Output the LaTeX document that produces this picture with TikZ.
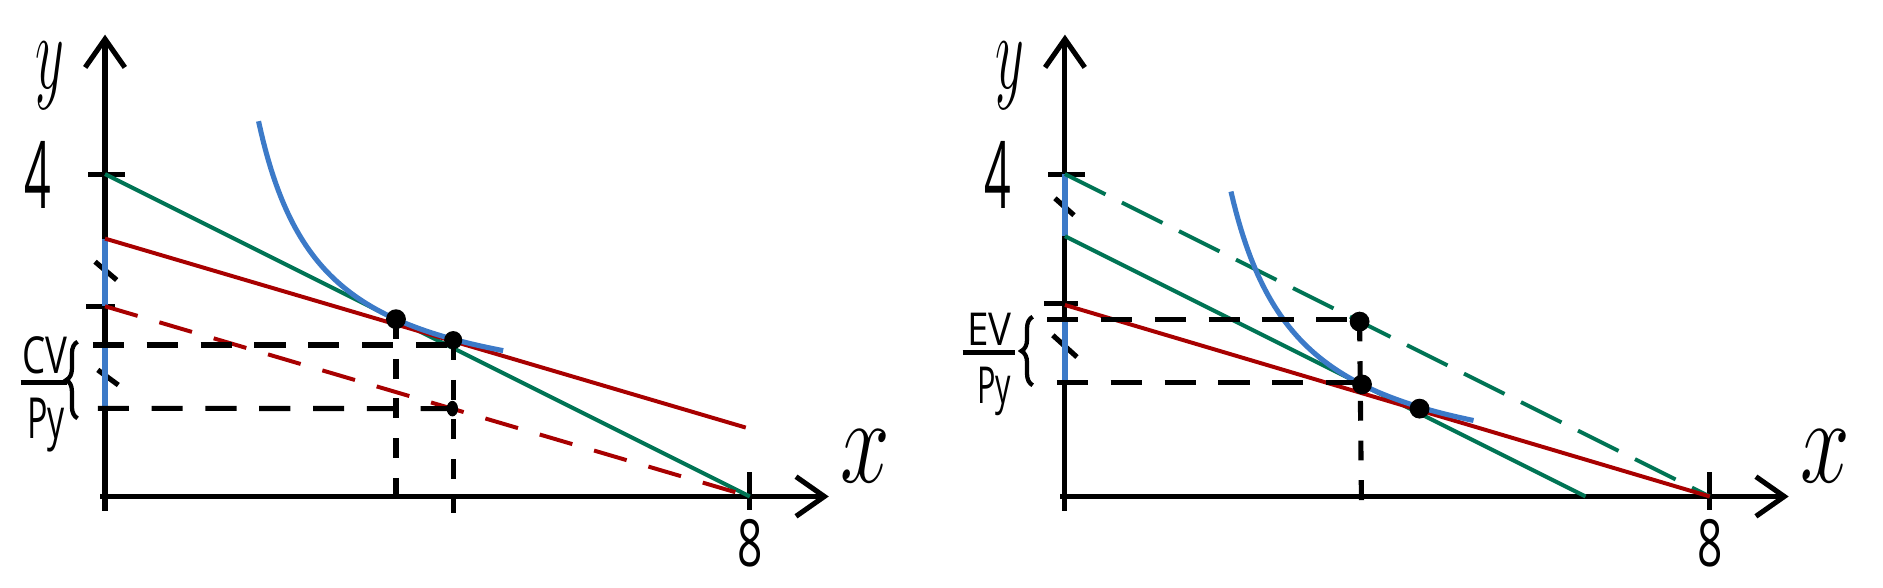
\RequirePackage{fix-cm}
\documentclass[tikz,border=0pt]{standalone}
\usepackage{graphicx}
\usepackage{fontspec}
\setsansfont{Open Sans}
\usetikzlibrary{arrows.meta,decorations.pathreplacing,shapes.geometric}
\definecolor{budgetgreen}{RGB}{0,116,84}
\definecolor{budgetred}{RGB}{168,0,0}
\definecolor{curveblue}{RGB}{60,122,200}
\tikzset{
  axisline/.style={line width=1.8pt,-{Straight Barb[length=10pt,width=14pt]}},
  tickline/.style={line width=1.8pt},
  greenline/.style={budgetgreen,line width=1.4pt},
  redline/.style={budgetred,line width=1.4pt},
  blueline/.style={curveblue,line width=1.8pt},
  gapline/.style={curveblue,line width=2.2pt},
  guide/.style={line width=1.8pt,dash pattern=on 11pt off 8pt},
  vguide/.style={line width=1.8pt,dash pattern=on 7pt off 7pt},
  dot/.style={circle,fill,inner sep=0pt,minimum size=7pt},
  smalldot/.style={ellipse,fill,inner sep=0pt,minimum width=4pt,minimum height=5.5pt},
  bracket/.style={line width=1.5pt,decorate,decoration={brace,amplitude=4pt}},
  biglbl/.style={inner sep=0pt,font=\sffamily\fontsize{33}{35}\selectfont},
  varlbl/.style={inner sep=0pt,font=\fontsize{43}{45}\selectfont},
  fraclbl/.style={inner sep=0pt,font=\sffamily\fontsize{18}{20}\selectfont},
}
\begin{document}
\begin{tikzpicture}
\useasboundingbox (-1.303,-1.135) rectangle (22.06,6.16);

% left: compensating variation
\draw[axisline] (0,-0.18) -- (0,5.73);
\draw[axisline] (-0.06,0) -- (8.98,0);
\draw[tickline] (-0.21,4) -- (0.25,4);
\draw[tickline] (8,0.3) -- (8,-0.17);
\draw[tickline] (-0.235,2.36) -- (0.12,2.36);
\draw[tickline] (-0.124,2.913) -- (0.145,2.686);
\draw[tickline] (-0.09,1.57) -- (0.165,1.383);
\draw[gapline] (0,3.2) -- (0,2.36);
\draw[gapline] (0,1.88) -- (0,1.094);
\draw[greenline] (0,4) -- (8,0);
\draw[redline] (0,3.2) -- (7.95,0.855);
\draw[redline,dash pattern=on 12pt off 8pt] (0,2.36) -- (8,0);
\draw[blueline,domain=1.905:4.94,samples=100] plot (\x,{1.083+2.769/(\x-1.13)});
\coordinate (A) at (3.61,2.20);
\coordinate (B) at (4.32,1.94);
\coordinate (C) at (4.31,1.09);
\draw[guide] (-0.15,1.88) -- (B |- 0,1.88);
\draw[guide] (-0.09,1.094) -- (C);
\draw[vguide] (A) -- (A |- 0,-0.12);
\draw[vguide] (B) -- (B |- 0,-0.2);
\node[dot] (ptA) at (A) {};
\node[dot,minimum size=6.4pt] (ptB) at (B) {};
\node[smalldot] (ptC) at (C) {};
\node[varlbl,font=\fontsize{38}{40}\selectfont] (ylabL) at (-0.68,5.22) {\scalebox{0.52}[1]{$y$}};
\node[varlbl] (xlabL) at (9.43,0.5) {\scalebox{0.73}[1]{$x$}};
\node[biglbl] (fourL) at (-0.83,3.99) {\scalebox{0.5}[1]{4}};
\node[biglbl,font=\sffamily\fontsize{23}{25}\selectfont] (eightL) at (8,-0.58) {\scalebox{0.68}[1]{8}};
\node[fraclbl] (cvnum) at (-0.744,1.75) {\scalebox{0.72}[1]{CV}};
\node[fraclbl,font=\sffamily\fontsize{20}{22}\selectfont] (cvden) at (-0.73,0.88) {\scalebox{0.6}[1]{Py}};
\draw[tickline,line width=1.6pt] (-1.047,1.412) -- (-0.476,1.412);
\draw[bracket] (-0.34,0.97) -- (-0.34,1.92);

% right: equivalent variation
\begin{scope}[xshift=11.91cm]
\draw[axisline] (0,-0.18) -- (0,5.73);
\draw[axisline] (-0.06,0) -- (8.98,0);
\draw[tickline] (-0.21,4) -- (0.25,4);
\draw[tickline] (8,0.3) -- (8,-0.17);
\draw[tickline] (-0.26,2.40) -- (0.16,2.40);
\draw[tickline] (-0.124,3.70) -- (0.112,3.49);
\draw[tickline] (-0.15,2.0) -- (0.149,1.73);
\draw[gapline] (0,4) -- (0,3.23);
\draw[gapline] (0,2.21) -- (0,1.41);
\draw[greenline,dash pattern=on 16pt off 6.5pt] (0,4) -- (8,0);
\draw[greenline] (0,3.23) -- (6.46,0);
\draw[redline] (0,2.376) -- (8,0);
\draw[blueline,domain=2.06:5.07,samples=100] plot (\x,{0.15+3.052/(\x-1.22)});
\coordinate (D) at (3.656,2.17);
\coordinate (E) at (3.686,1.39);
\coordinate (F) at (4.40,1.09);
\draw[guide] (-0.22,2.2) -- (D |- 0,2.2);
\draw[guide] (-0.1,1.41) -- (E |- 0,1.41);
\draw[vguide] (D) -- (3.68,-0.15);
\node[dot] (ptD) at (D) {};
\node[dot] (ptE) at (E) {};
\node[dot] (ptF) at (F) {};
\node[varlbl,font=\fontsize{38}{40}\selectfont] (ylabR) at (-0.68,5.22) {\scalebox{0.52}[1]{$y$}};
\node[varlbl] (xlabR) at (9.43,0.5) {\scalebox{0.73}[1]{$x$}};
\node[biglbl] (fourR) at (-0.83,3.99) {\scalebox{0.5}[1]{4}};
\node[biglbl,font=\sffamily\fontsize{23}{25}\selectfont] (eightR) at (8,-0.58) {\scalebox{0.68}[1]{8}};
\node[fraclbl,font=\sffamily\fontsize{16}{18}\selectfont] (evnum) at (-0.94,2.08) {\scalebox{0.85}[1]{EV}};
\node[fraclbl] (evden) at (-0.88,1.30) {\scalebox{0.6}[1]{Py}};
\draw[tickline,line width=1.6pt] (-1.27,1.784) -- (-0.62,1.784);
\draw[bracket] (-0.40,1.38) -- (-0.40,2.23);
\end{scope}
\end{tikzpicture}
\end{document}
